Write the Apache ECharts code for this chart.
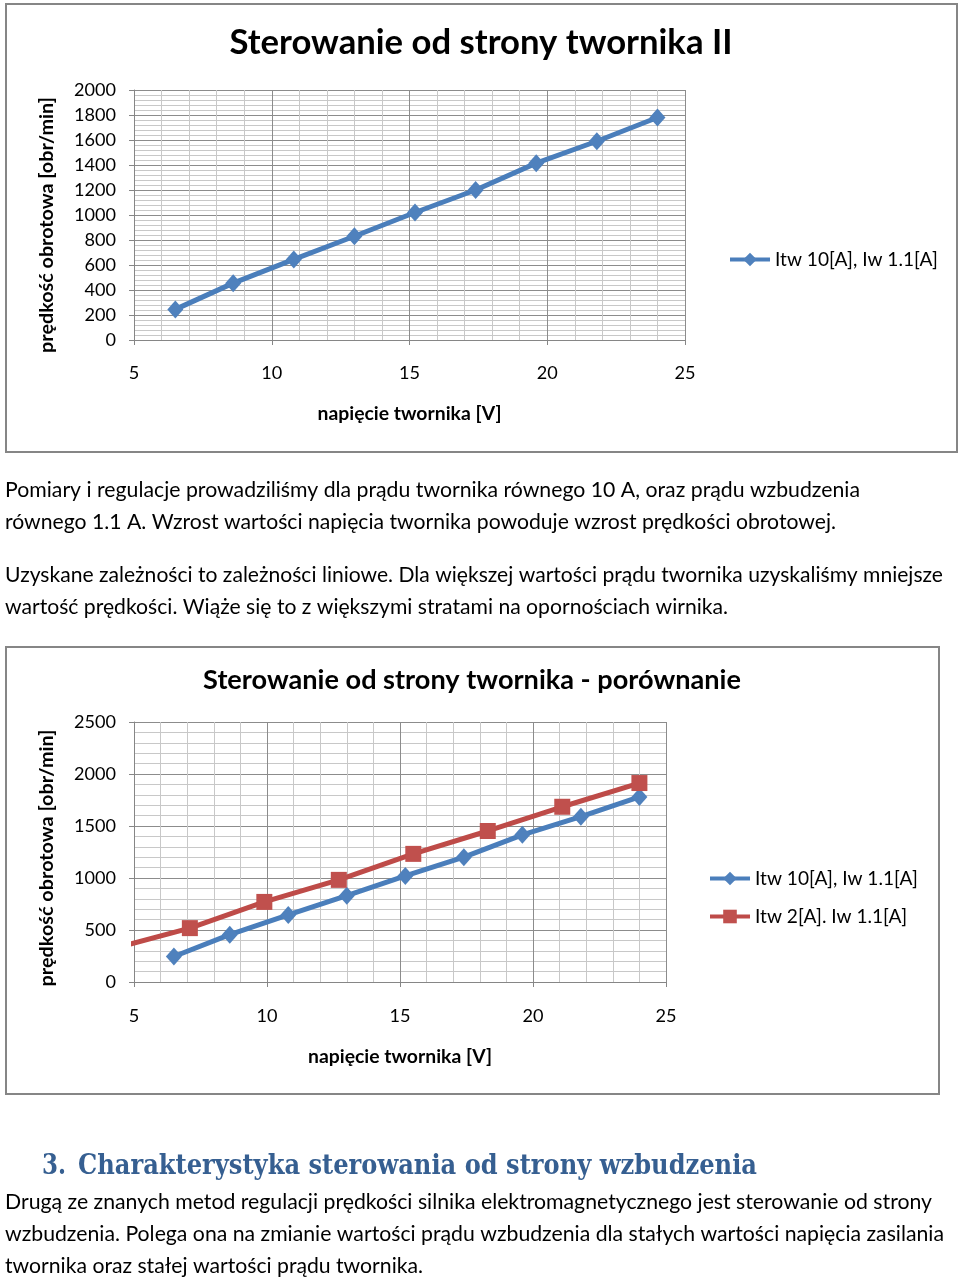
<!DOCTYPE html>
<html><head><meta charset="utf-8">
<script src="https://cdn.jsdelivr.net/npm/echarts@6/dist/echarts.min.js"></script>
<style>html,body{margin:0;padding:0;background:#fff}#c{width:960px;height:1279px}</style>
</head><body><div id="c"></div>
<script>
// ---- data ----
const voltageA = [6.5, 8.6, 10.8, 13.0, 15.2, 17.4, 19.6, 21.8, 24.0];
const speedA   = [245, 455, 645, 830, 1020, 1200, 1415, 1590, 1780];
const voltageB = [4.2, 7.1, 9.9, 12.7, 15.5, 18.3, 21.1, 24.0];
const speedB   = [320, 518, 770, 982, 1232, 1452, 1685, 1913];
const seriesNames = ['Itw 10[A], Iw 1.1[A]', 'Itw 2[A]. Iw 1.1[A]'];
const chartTitles = ['Sterowanie od strony twornika II', 'Sterowanie od strony twornika - porównanie'];
const xAxisName = 'napięcie twornika [V]';
const yAxisName = 'prędkość obrotowa [obr/min]';
const para1 = ['Pomiary i regulacje prowadziliśmy dla prądu twornika równego 10 A, oraz prądu wzbudzenia',
               'równego 1.1 A. Wzrost wartości napięcia twornika powoduje wzrost prędkości obrotowej.'];
const para2 = ['Uzyskane zależności to zależności liniowe. Dla większej wartości prądu twornika uzyskaliśmy mniejsze',
               'wartość prędkości. Wiąże się to z większymi stratami na opornościach wirnika.'];
const headingNum = '3.';
const headingText = 'Charakterystyka sterowania od strony wzbudzenia';
const para3 = ['Drugą ze znanych metod regulacji prędkości silnika elektromagnetycznego jest sterowanie od strony',
               'wzbudzenia. Polega ona na zmianie wartości prądu wzbudzenia dla stałych wartości napięcia zasilania',
               'twornika oraz stałej wartości prądu twornika.'];

// ---- helpers ----
const FONT = 'Lato';
const mctx = document.createElement('canvas').getContext('2d');
function textW(t, weight, size, family) { mctx.font = weight + ' ' + size + 'px "' + family + '"'; return mctx.measureText(t).width; }
function fitSize(t, weight, family, target) { return 100 * target / textW(t, weight, 100, family); }
function pairs(xs, ys) { return xs.map((x, i) => [x, ys[i]]); }
function lineText(t, x, cy, target, size, family, weight, color) {
  const w = textW(t, weight, size, family);
  return { type: 'text', x: x, y: cy, scaleX: target / w,
    style: { text: t, fontSize: size, fontFamily: family, fontWeight: weight, fill: color, align: 'left', verticalAlign: 'middle' } };
}
function centerText(t, cx, cy, target, family, weight, rot) {
  const size = fitSize(t, weight, family, target);
  return { type: 'text', x: cx, y: cy, rotation: rot || 0,
    style: { text: t, fontSize: size, fontFamily: family, fontWeight: weight, fill: '#000', align: 'center', verticalAlign: 'middle' } };
}

const tickSize = fitSize('2000', 'normal', FONT, 42);
const legendSize = fitSize(seriesNames[0], 'normal', FONT, 163);
const xNameSize = fitSize(xAxisName, 'bold', FONT, 184);
const plain = v => String(v);

function mkX(gi, gap, margin) {
  return { type: 'value', gridIndex: gi, min: 5, max: 25, interval: 5,
    axisLine: { show: true, onZero: false, lineStyle: { color: '#868686', width: 1 } },
    axisTick: { show: true, length: 5, lineStyle: { color: '#868686' } },
    axisLabel: { margin: margin, color: '#000', fontFamily: FONT, fontSize: tickSize, formatter: plain },
    splitLine: { show: true, lineStyle: { color: '#8c8c8c', width: 1 } },
    minorTick: { show: false, splitNumber: 5 },
    minorSplitLine: { show: true, lineStyle: { color: '#c8c8c8', width: 1 } },
    name: xAxisName, nameLocation: 'middle', nameGap: gap,
    nameTextStyle: { color: '#000', fontFamily: FONT, fontWeight: 'bold', fontSize: xNameSize } };
}
function mkY(gi, max, interval) {
  return { type: 'value', gridIndex: gi, min: 0, max: max, interval: interval,
    axisLine: { show: true, onZero: false, lineStyle: { color: '#868686', width: 1 } },
    axisTick: { show: true, length: 5, lineStyle: { color: '#868686' } },
    axisLabel: { margin: 18, color: '#000', fontFamily: FONT, fontSize: tickSize, formatter: plain },
    splitLine: { show: true, lineStyle: { color: '#8c8c8c', width: 1 } },
    minorTick: { show: false, splitNumber: 5 },
    minorSplitLine: { show: true, lineStyle: { color: '#c8c8c8', width: 1 } } };
}
const blue = { symbol: 'diamond', symbolSize: [16, 18], lineStyle: { color: '#4A7EBB', width: 5 }, itemStyle: { color: '#4F81BD' } };
const red = { symbol: 'rect', symbolSize: 16, lineStyle: { color: '#BE4B48', width: 5 }, itemStyle: { color: '#C0504D' } };
const legendText = { color: '#000', fontFamily: FONT, fontSize: legendSize };

const TXT = 21;
const graphic = [
  { type: 'rect', shape: { x: 6, y: 4, width: 951, height: 448 }, style: { fill: null, stroke: '#868686', lineWidth: 2 } },
  { type: 'rect', shape: { x: 6, y: 647, width: 933, height: 447 }, style: { fill: null, stroke: '#868686', lineWidth: 2 } },
  centerText(chartTitles[0], 481, 43, 503, FONT, 'bold'),
  centerText(chartTitles[1], 472, 680, 538, FONT, 'bold'),
  centerText(yAxisName, 47, 225, 256, FONT, 'bold', Math.PI / 2),
  centerText(yAxisName, 47, 858, 257, FONT, 'bold', Math.PI / 2),
  lineText(para1[0], 5, 490, 855, TXT, FONT, 'normal', '#000'),
  lineText(para1[1], 5, 522, 831, TXT, FONT, 'normal', '#000'),
  lineText(para2[0], 5, 575, 938, TXT, FONT, 'normal', '#000'),
  lineText(para2[1], 5, 607, 723, TXT, FONT, 'normal', '#000'),
  lineText(headingNum, 42, 1167, 24, 27, 'DejaVu Serif', 'bold', '#365F91'),
  lineText(headingText, 78, 1167, 679, 27, 'DejaVu Serif', 'bold', '#365F91'),
  lineText(para3[0], 5, 1202, 927, TXT, FONT, 'normal', '#000'),
  lineText(para3[1], 5, 1234, 939, TXT, FONT, 'normal', '#000'),
  lineText(para3[2], 5, 1266, 418, TXT, FONT, 'normal', '#000')
];

const legendCommon = { orient: 'vertical', padding: 0, itemWidth: 40, itemHeight: 17, textStyle: legendText, lineStyle: { width: 4 } };

const chart = echarts.init(document.getElementById('c'), null, { renderer: 'canvas' });
chart.setOption({
  animation: false,
  backgroundColor: '#fff',
  grid: [
    { left: 134, top: 90, width: 551, height: 250 },
    { left: 134, top: 722, width: 532, height: 260 }
  ],
  xAxis: [mkX(0, 64, 24), mkX(1, 65, 25)],
  yAxis: [mkY(0, 2000, 200), mkY(1, 2500, 500)],
  legend: [
    Object.assign({ data: [seriesNames[0]], left: 728, top: 250 }, legendCommon),
    Object.assign({ data: seriesNames, left: 708, top: 869, itemGap: 19 }, legendCommon)
  ],
  series: [
    Object.assign({ type: 'line', name: seriesNames[0], xAxisIndex: 0, yAxisIndex: 0, data: pairs(voltageA, speedA), clip: true }, blue),
    Object.assign({ type: 'line', name: seriesNames[0], xAxisIndex: 1, yAxisIndex: 1, data: pairs(voltageA, speedA), clip: true }, blue),
    Object.assign({ type: 'line', name: seriesNames[1], xAxisIndex: 1, yAxisIndex: 1, data: pairs(voltageB, speedB), clip: true }, red)
  ],
  graphic: graphic
});
</script>
</body></html>
